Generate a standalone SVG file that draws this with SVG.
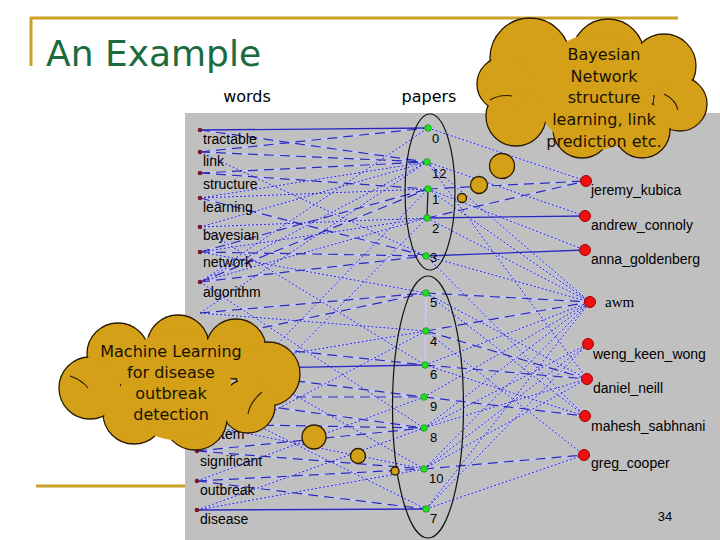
<svg xmlns="http://www.w3.org/2000/svg" width="720" height="540" viewBox="0 0 720 540">
<style>
.gold{stroke:#c9a227;stroke-width:3;fill:none}
.hd{font-family:"DejaVu Sans",sans-serif;fill:#000}
.lb{font-family:"Liberation Sans",Arial,sans-serif;font-size:14px;fill:#000}
.num{font-family:"Liberation Sans",Arial,sans-serif;font-size:13px;fill:#000}
.wd{fill:#7a1428}
.pd{fill:#22dd22;stroke:#129912;stroke-width:0.8}
.ad{fill:#ee1010;stroke:#a00000;stroke-width:1}
.base{stroke:#c6c6ee;stroke-width:2;fill:none}
.e{stroke:#2a2ab4;fill:none}
.d{stroke-width:1.2;stroke-dasharray:10 6}
.t{stroke-width:1;stroke-dasharray:2 2}
.s{stroke-width:1.3}
.ell{fill:none;stroke:#111;stroke-width:1.2}
.cl{fill:#d4a017;stroke:#2a1a00;stroke-width:1.3}
.cf{fill:#d4a017}
.arc{fill:none;stroke:#2a1a00;stroke-width:1.1}
.ct{font-family:"DejaVu Sans",sans-serif;font-size:16px;fill:#1a1200;text-anchor:middle}
</style>
<rect x="0" y="0" width="720" height="540" fill="#ffffff"/>
<g id="frame">
<line class="gold" x1="30" y1="18" x2="678" y2="18"/>
<line class="gold" x1="31" y1="17" x2="31" y2="66"/>
<line class="gold" x1="36" y1="486" x2="186" y2="486"/>
</g>
<text id="title" x="46" y="66" class="hd" font-size="36" style="fill:#1b6b3f">An Example</text>
<text x="247" y="102" class="hd" font-size="16" text-anchor="middle">words</text>
<text x="429" y="102" class="hd" font-size="16" text-anchor="middle">papers</text>
<rect id="panel" x="185" y="113" width="535" height="427" fill="#c0c0c0"/>
<g id="connectors">
<path class="base" d="M200 130L428 128M200 130L427 162M200 152L428 128M200 152L427 162M200 152L426 256M200 173L427 162M200 173L428 189M200 198L427 162M200 198L428 189M200 198L426 256M200 227L427 162M200 227L427 218M200 227L425 365M200 252L428 189M200 252L427 218M200 252L426 256M200 252L426 293M200 282L428 128M200 282L427 162M200 282L428 189M200 282L427 218M200 282L426 256M200 282L424 428M200 313L426 293M200 313L426 331M200 313L427 162M200 341L426 293M200 341L425 365M200 341L424 469M200 369L425 365M200 369L424 397M200 369L426 331M200 397L424 428M200 397L424 397M200 397L426 509M200 424L424 428M200 424L424 469M200 424L428 189M197 451L424 428M197 451L424 469M197 451L426 331M197 451L427 218M197 481L424 469M197 481L426 509M197 481L424 397M197 510L426 509M197 510L424 469M197 510L424 428M428 128L586 181M427 162L585 216M427 162L590 302M427 162L587 379M428 189L586 181M428 189L585 250M428 189L590 302M427 218L585 216M427 218L586 181M427 218L590 302M426 256L585 250M426 256L590 302M426 256L585 416M426 293L590 302M426 293L587 379M426 293L585 416M426 331L590 302M426 331L587 379M426 331L584 455M425 365L590 302M425 365L587 379M425 365L585 416M424 397L590 302M424 397L585 416M424 428L590 302M424 428L587 379M424 428L588 344M424 469L584 455M424 469L590 302M424 469L588 344M424 469L587 379M426 509L584 455M426 509L588 344M426 509L590 302M426 293L425 365"/>
<g class="e">
<line class="s" x1="200" y1="130" x2="428" y2="128"/>
<line class="d" x1="200" y1="130" x2="427" y2="162"/>
<line class="d" x1="200" y1="152" x2="428" y2="128"/>
<line class="d" x1="200" y1="152" x2="427" y2="162"/>
<line class="t" x1="200" y1="152" x2="426" y2="256"/>
<line class="d" x1="200" y1="173" x2="427" y2="162"/>
<line class="d" x1="200" y1="173" x2="428" y2="189"/>
<line class="t" x1="200" y1="198" x2="427" y2="162"/>
<line class="t" x1="200" y1="198" x2="428" y2="189"/>
<line class="d" x1="200" y1="198" x2="426" y2="256"/>
<line class="t" x1="200" y1="227" x2="427" y2="162"/>
<line class="t" x1="200" y1="227" x2="427" y2="218"/>
<line class="t" x1="200" y1="227" x2="425" y2="365"/>
<line class="d" x1="200" y1="252" x2="428" y2="189"/>
<line class="t" x1="200" y1="252" x2="427" y2="218"/>
<line class="d" x1="200" y1="252" x2="426" y2="256"/>
<line class="t" x1="200" y1="252" x2="426" y2="293"/>
<line class="t" x1="200" y1="282" x2="428" y2="128"/>
<line class="t" x1="200" y1="282" x2="427" y2="162"/>
<line class="d" x1="200" y1="282" x2="428" y2="189"/>
<line class="t" x1="200" y1="282" x2="427" y2="218"/>
<line class="d" x1="200" y1="282" x2="426" y2="256"/>
<line class="t" x1="200" y1="282" x2="424" y2="428"/>
<line class="d" x1="200" y1="313" x2="426" y2="293"/>
<line class="t" x1="200" y1="313" x2="426" y2="331"/>
<line class="t" x1="200" y1="313" x2="427" y2="162"/>
<line class="d" x1="200" y1="341" x2="426" y2="293"/>
<line class="d" x1="200" y1="341" x2="425" y2="365"/>
<line class="t" x1="200" y1="341" x2="424" y2="469"/>
<line class="s" x1="200" y1="369" x2="425" y2="365"/>
<line class="d" x1="200" y1="369" x2="424" y2="397"/>
<line class="t" x1="200" y1="369" x2="426" y2="331"/>
<line class="d" x1="200" y1="397" x2="424" y2="428"/>
<line class="d" x1="200" y1="397" x2="424" y2="397"/>
<line class="t" x1="200" y1="397" x2="426" y2="509"/>
<line class="d" x1="200" y1="424" x2="424" y2="428"/>
<line class="t" x1="200" y1="424" x2="424" y2="469"/>
<line class="t" x1="200" y1="424" x2="428" y2="189"/>
<line class="d" x1="197" y1="451" x2="424" y2="428"/>
<line class="d" x1="197" y1="451" x2="424" y2="469"/>
<line class="t" x1="197" y1="451" x2="426" y2="331"/>
<line class="t" x1="197" y1="451" x2="427" y2="218"/>
<line class="d" x1="197" y1="481" x2="424" y2="469"/>
<line class="d" x1="197" y1="481" x2="426" y2="509"/>
<line class="t" x1="197" y1="481" x2="424" y2="397"/>
<line class="s" x1="197" y1="510" x2="426" y2="509"/>
<line class="t" x1="197" y1="510" x2="424" y2="469"/>
<line class="t" x1="197" y1="510" x2="424" y2="428"/>
<line class="t" x1="428" y1="128" x2="586" y2="181"/>
<line class="t" x1="427" y1="162" x2="585" y2="216"/>
<line class="t" x1="427" y1="162" x2="590" y2="302"/>
<line class="t" x1="427" y1="162" x2="587" y2="379"/>
<line class="d" x1="428" y1="189" x2="586" y2="181"/>
<line class="t" x1="428" y1="189" x2="585" y2="250"/>
<line class="t" x1="428" y1="189" x2="590" y2="302"/>
<line class="s" x1="427" y1="218" x2="585" y2="216"/>
<line class="d" x1="427" y1="218" x2="586" y2="181"/>
<line class="t" x1="427" y1="218" x2="590" y2="302"/>
<line class="s" x1="426" y1="256" x2="585" y2="250"/>
<line class="t" x1="426" y1="256" x2="590" y2="302"/>
<line class="t" x1="426" y1="256" x2="585" y2="416"/>
<line class="d" x1="426" y1="293" x2="590" y2="302"/>
<line class="t" x1="426" y1="293" x2="587" y2="379"/>
<line class="t" x1="426" y1="293" x2="585" y2="416"/>
<line class="d" x1="426" y1="331" x2="590" y2="302"/>
<line class="d" x1="426" y1="331" x2="587" y2="379"/>
<line class="t" x1="426" y1="331" x2="584" y2="455"/>
<line class="t" x1="425" y1="365" x2="590" y2="302"/>
<line class="d" x1="425" y1="365" x2="587" y2="379"/>
<line class="t" x1="425" y1="365" x2="585" y2="416"/>
<line class="t" x1="424" y1="397" x2="590" y2="302"/>
<line class="d" x1="424" y1="397" x2="585" y2="416"/>
<line class="t" x1="424" y1="428" x2="590" y2="302"/>
<line class="t" x1="424" y1="428" x2="587" y2="379"/>
<line class="t" x1="424" y1="428" x2="588" y2="344"/>
<line class="d" x1="424" y1="469" x2="584" y2="455"/>
<line class="t" x1="424" y1="469" x2="590" y2="302"/>
<line class="t" x1="424" y1="469" x2="588" y2="344"/>
<line class="t" x1="424" y1="469" x2="587" y2="379"/>
<line class="t" x1="426" y1="509" x2="584" y2="455"/>
<line class="t" x1="426" y1="509" x2="588" y2="344"/>
<line class="t" x1="426" y1="509" x2="590" y2="302"/>
</g>
<line x1="428" y1="189" x2="427" y2="218" stroke="#1a1a40" stroke-width="1.3"/>
</g>
<g id="groups">
<ellipse class="ell" cx="430" cy="192" rx="25" ry="78"/>
<ellipse class="ell" cx="428" cy="407" rx="35.5" ry="131"/>
</g>
<g id="words">
<g id="w-tractable"><circle class="wd" cx="200" cy="130" r="2.3"/><text class="lb" x="203" y="144">tractable</text></g>
<g id="w-link"><circle class="wd" cx="200" cy="152" r="2.3"/><text class="lb" x="203" y="166">link</text></g>
<g id="w-structure"><circle class="wd" cx="200" cy="173" r="2.3"/><text class="lb" x="203" y="189">structure</text></g>
<g id="w-learning"><circle class="wd" cx="200" cy="198" r="2.3"/><text class="lb" x="203" y="212">learning</text></g>
<g id="w-bayesian"><circle class="wd" cx="200" cy="227" r="2.3"/><text class="lb" x="203" y="240">bayesian</text></g>
<g id="w-network"><circle class="wd" cx="200" cy="252" r="2.3"/><text class="lb" x="203" y="267">network</text></g>
<g id="w-algorithm"><circle class="wd" cx="200" cy="282" r="2.3"/><text class="lb" x="203" y="297">algorithm</text></g>
<g id="w-system"><circle class="wd" cx="200" cy="424" r="2.3"/><text class="lb" x="200" y="439">system</text></g>
<g id="w-significant"><circle class="wd" cx="197" cy="451" r="2.3"/><text class="lb" x="200" y="466">significant</text></g>
<g id="w-outbreak"><circle class="wd" cx="197" cy="481" r="2.3"/><text class="lb" x="200" y="495">outbreak</text></g>
<g id="w-disease"><circle class="wd" cx="197" cy="510" r="2.3"/><text class="lb" x="200" y="524">disease</text></g>
</g>
<g id="papers">
<g id="p-0"><circle class="pd" cx="428" cy="128" r="3.3"/><text class="num" x="432" y="143">0</text></g>
<g id="p-12"><circle class="pd" cx="427" cy="162" r="3.3"/><text class="num" x="432" y="178">12</text></g>
<g id="p-1"><circle class="pd" cx="428" cy="189" r="3.3"/><text class="num" x="432" y="204">1</text></g>
<g id="p-2"><circle class="pd" cx="427" cy="218" r="3.3"/><text class="num" x="432" y="233">2</text></g>
<g id="p-3"><circle class="pd" cx="426" cy="256" r="3.3"/><text class="num" x="430" y="262">3</text></g>
<g id="p-5"><circle class="pd" cx="426" cy="293" r="3.3"/><text class="num" x="430" y="307">5</text></g>
<g id="p-4"><circle class="pd" cx="426" cy="331" r="3.3"/><text class="num" x="430" y="346">4</text></g>
<g id="p-6"><circle class="pd" cx="425" cy="365" r="3.3"/><text class="num" x="430" y="379">6</text></g>
<g id="p-9"><circle class="pd" cx="424" cy="397" r="3.3"/><text class="num" x="430" y="411">9</text></g>
<g id="p-8"><circle class="pd" cx="424" cy="428" r="3.3"/><text class="num" x="430" y="442">8</text></g>
<g id="p-10"><circle class="pd" cx="424" cy="469" r="3.3"/><text class="num" x="429" y="483">10</text></g>
<g id="p-7"><circle class="pd" cx="426" cy="509" r="3.3"/><text class="num" x="430" y="523">7</text></g>
</g>
<g id="authors">
<g id="a-jeremy_kubica"><circle class="ad" cx="586" cy="181" r="5.5"/><text class="lb" x="591" y="195">jeremy_kubica</text></g>
<g id="a-andrew_connoly"><circle class="ad" cx="585" cy="216" r="5.5"/><text class="lb" x="591" y="230">andrew_connoly</text></g>
<g id="a-anna_goldenberg"><circle class="ad" cx="585" cy="250" r="5.5"/><text class="lb" x="591" y="264">anna_goldenberg</text></g>
<g id="a-awm"><circle class="ad" cx="590" cy="302" r="5.5"/><text x="605" y="307" font-family="Liberation Serif, serif" font-size="15">awm</text></g>
<g id="a-weng_keen_wong"><circle class="ad" cx="588" cy="344" r="5.5"/><text class="lb" x="593" y="359">weng_keen_wong</text></g>
<g id="a-daniel_neill"><circle class="ad" cx="587" cy="379" r="5.5"/><text class="lb" x="593" y="393">daniel_neill</text></g>
<g id="a-mahesh_sabhnani"><circle class="ad" cx="585" cy="416" r="5.5"/><text class="lb" x="591" y="431">mahesh_sabhnani</text></g>
<g id="a-greg_cooper"><circle class="ad" cx="584" cy="455" r="5.5"/><text class="lb" x="591" y="468">greg_cooper</text></g>
</g>
<text id="page" class="num" x="665" y="521" text-anchor="middle">34</text>
<g id="bubbles">
<circle class="cl" cx="502" cy="166" r="12.5"/>
<circle class="cl" cx="479" cy="185" r="8.5"/>
<circle class="cl" cx="462" cy="198" r="4.5"/>
<circle class="cl" cx="314" cy="437" r="12"/>
<circle class="cl" cx="358" cy="456" r="7.5"/>
<circle class="cl" cx="395" cy="471" r="4"/>
</g>
<g id="cloud-bayesian">
<g>
<circle class="cl" cx="530" cy="58" r="40"/>
<circle class="cl" cx="608" cy="55" r="36"/>
<circle class="cl" cx="664" cy="66" r="32"/>
<circle class="cl" cx="680" cy="104" r="27"/>
<circle class="cl" cx="642" cy="130" r="28"/>
<circle class="cl" cx="582" cy="129" r="29"/>
<circle class="cl" cx="516" cy="116" r="30"/>
<circle class="cl" cx="504" cy="84" r="27"/>
</g>
<g>
<circle class="cf" cx="530" cy="58" r="39"/>
<circle class="cf" cx="608" cy="55" r="35"/>
<circle class="cf" cx="664" cy="66" r="31"/>
<circle class="cf" cx="680" cy="104" r="26"/>
<circle class="cf" cx="642" cy="130" r="27"/>
<circle class="cf" cx="582" cy="129" r="28"/>
<circle class="cf" cx="516" cy="116" r="29"/>
<circle class="cf" cx="504" cy="84" r="26"/>
<circle class="cf" cx="595" cy="92" r="58"/>
</g>
<path class="arc" d="M490 100 Q500 94 512 96"/>
<path class="arc" d="M664 94 Q676 100 678 110"/>
<text class="ct" x="604" y="60">Bayesian</text>
<text class="ct" x="604" y="82">Network</text>
<text class="ct" x="604" y="103">structure</text>
<text class="ct" x="604" y="125">learning, link</text>
<text class="ct" x="604" y="147">prediction etc.</text>
</g>
<g id="cloud-ml">
<g>
<circle class="cl" cx="118" cy="354" r="31"/>
<circle class="cl" cx="178" cy="346" r="31"/>
<circle class="cl" cx="236" cy="349" r="30"/>
<circle class="cl" cx="268" cy="374" r="32"/>
<circle class="cl" cx="248" cy="406" r="27"/>
<circle class="cl" cx="195" cy="418" r="32"/>
<circle class="cl" cx="134" cy="413" r="31"/>
<circle class="cl" cx="90" cy="388" r="31"/>
</g>
<g>
<circle class="cf" cx="118" cy="354" r="30"/>
<circle class="cf" cx="178" cy="346" r="30"/>
<circle class="cf" cx="236" cy="349" r="29"/>
<circle class="cf" cx="268" cy="374" r="31"/>
<circle class="cf" cx="248" cy="406" r="26"/>
<circle class="cf" cx="195" cy="418" r="31"/>
<circle class="cf" cx="134" cy="413" r="30"/>
<circle class="cf" cx="90" cy="388" r="30"/>
<circle class="cf" cx="176" cy="385" r="55"/>
</g>
<path class="arc" d="M262 392 Q250 402 248 414"/>
<path class="arc" d="M70 376 Q82 380 88 388"/>
<text class="ct" x="171" y="357">Machine Learning</text>
<text class="ct" x="171" y="378">for disease</text>
<text class="ct" x="171" y="399">outbreak</text>
<text class="ct" x="171" y="420">detection</text>
</g>
</svg>
